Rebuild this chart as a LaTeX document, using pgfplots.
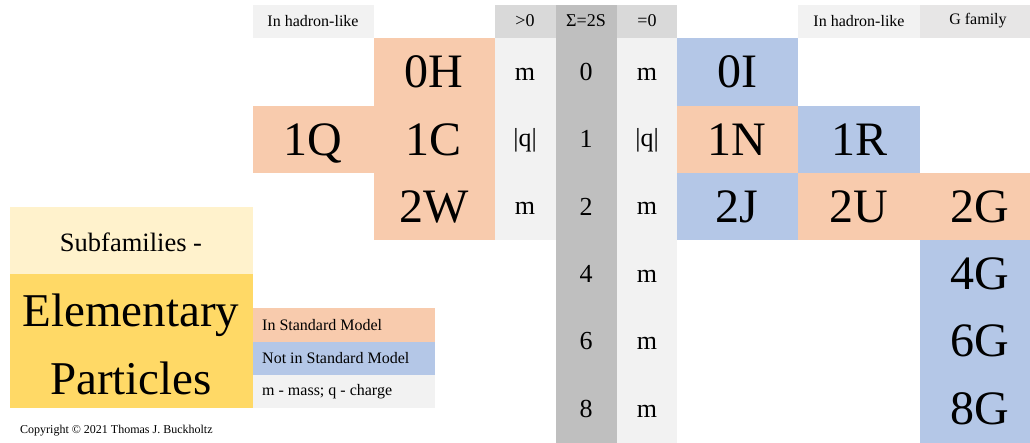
\documentclass[border=0pt]{standalone}
\usepackage{fontspec}
\setmainfont{Liberation Serif}
\usepackage{pgfplots}
\pgfplotsset{compat=1.18}
\definecolor{smorange}{HTML}{F8CBAD}
\definecolor{smblue}{HTML}{B4C7E7}
\definecolor{lgray}{HTML}{F2F2F2}
\definecolor{hgray}{HTML}{D9D9D9}
\definecolor{sgray}{HTML}{BFBFBF}
\definecolor{ggray}{HTML}{E7E6E6}
\definecolor{lyellow}{HTML}{FFF2CC}
\definecolor{gold}{HTML}{FFD966}

\tikzset{
  big/.style={font=\fontsize{48}{48}\selectfont, text depth=0pt},
  mid/.style={font=\fontsize{26}{26}\selectfont},
  hdr/.style={font=\fontsize{18}{18}\selectfont},
  sml/.style={font=\fontsize{16}{16}\selectfont},
}

% cell: x1 y1 x2 y2 colour (pixel units, y downwards)
\newcommand{\cell}[5]{\addplot[fill=#5,draw=none] coordinates {(#1,#2) (#3,#2) (#3,#4) (#1,#4)} -- cycle;}
\newcommand{\lbl}[4][]{\node[inner sep=0pt,#1] at (axis cs:#2,#3) {#4};}

\begin{document}
\begin{tikzpicture}
\begin{axis}[
  width=1030pt, height=443pt, scale only axis,
  xmin=0, xmax=1030, ymin=0, ymax=443, y dir=reverse,
  hide axis, clip=false, no markers,
]
% background
\cell{0}{0}{1030}{443}{white}

% header row
\cell{253}{5}{374}{38}{lgray}
\cell{495}{5}{556}{38}{hgray}
\cell{556}{5}{617}{443}{sgray}
\cell{617}{5}{677}{38}{hgray}
\cell{798}{5}{920}{38}{lgray}
\cell{920}{5}{1030}{38}{ggray}
% property columns
\cell{495}{38}{556}{240}{lgray}
\cell{617}{38}{677}{443}{lgray}

% row 0
\cell{374}{38}{495}{106}{smorange}
\cell{677}{38}{798}{106}{smblue}
% row 1
\cell{253}{106}{374}{173}{smorange}
\cell{374}{106}{495}{173}{smorange}
\cell{677}{106}{798}{173}{smorange}
\cell{798}{106}{920}{173}{smblue}
% row 2
\cell{374}{173}{495}{240}{smorange}
\cell{677}{173}{798}{240}{smblue}
\cell{798}{173}{920}{240}{smorange}
\cell{920}{173}{1030}{240}{smorange}
% rows 4, 6, 8
\cell{920}{240}{1030}{443}{smblue}

% title and key
\cell{10}{207}{253}{274}{lyellow}
\cell{10}{274}{253}{408}{gold}
\cell{253}{308}{435}{342}{smorange}
\cell{253}{342}{435}{375}{smblue}
\cell{253}{375}{435}{408}{lgray}

% header texts
\lbl[sml]{313}{21}{In hadron-like}
\lbl[hdr]{525}{21}{>0}
\lbl[hdr]{586}{21}{Σ=2S}
\lbl[hdr]{647}{21}{=0}
\lbl[sml]{859}{21}{In hadron-like}
\lbl[sml]{978}{21}{G family}

% property columns
\lbl[mid]{525}{74}{m}
\lbl[mid]{525}{140}{|q|}
\lbl[mid]{525}{208}{m}
\lbl[mid]{586}{72}{0}
\lbl[mid]{586}{139}{1}
\lbl[mid]{586}{207}{2}
\lbl[mid]{586}{274}{4}
\lbl[mid]{586}{341}{6}
\lbl[mid]{586}{409}{8}
\lbl[mid]{647}{74}{m}
\lbl[mid]{647}{140}{|q|}
\lbl[mid]{647}{208}{m}
\lbl[mid]{647}{276}{m}
\lbl[mid]{647}{343}{m}
\lbl[mid]{647}{411}{m}

% subfamilies
\lbl[big]{434}{72}{0H}
\lbl[big]{737}{72}{0I}
\lbl[big]{313}{140}{1Q}
\lbl[big]{434}{140}{1C}
\lbl[big]{737}{140}{1N}
\lbl[big]{859}{140}{1R}
\lbl[big]{434}{207}{2W}
\lbl[big]{737}{207}{2J}
\lbl[big]{859}{207}{2U}
\lbl[big,anchor=east]{1009}{207}{2G}
\lbl[big,anchor=east]{1009}{274}{4G}
\lbl[big,anchor=east]{1009}{341}{6G}
\lbl[big,anchor=east]{1009}{409}{8G}

% title
\lbl[font=\fontsize{26.5}{26.5}\selectfont]{131}{242}{Subfamilies -}
\lbl[font=\fontsize{47}{47}\selectfont, text depth=0pt]{131}{310}{Elementary}
\lbl[font=\fontsize{47}{47}\selectfont, text depth=0pt]{131}{378}{Particles}

% key
\lbl[sml,anchor=west]{262}{325}{In Standard Model}
\lbl[sml,anchor=west]{262}{358}{Not in Standard Model}
\lbl[sml,anchor=west]{262}{392}{m - mass; q - charge}
\lbl[font=\fontsize{12}{12}\selectfont,anchor=west]{20}{431}{Copyright © 2021 Thomas J. Buckholtz}
\end{axis}
\end{tikzpicture}
\end{document}
